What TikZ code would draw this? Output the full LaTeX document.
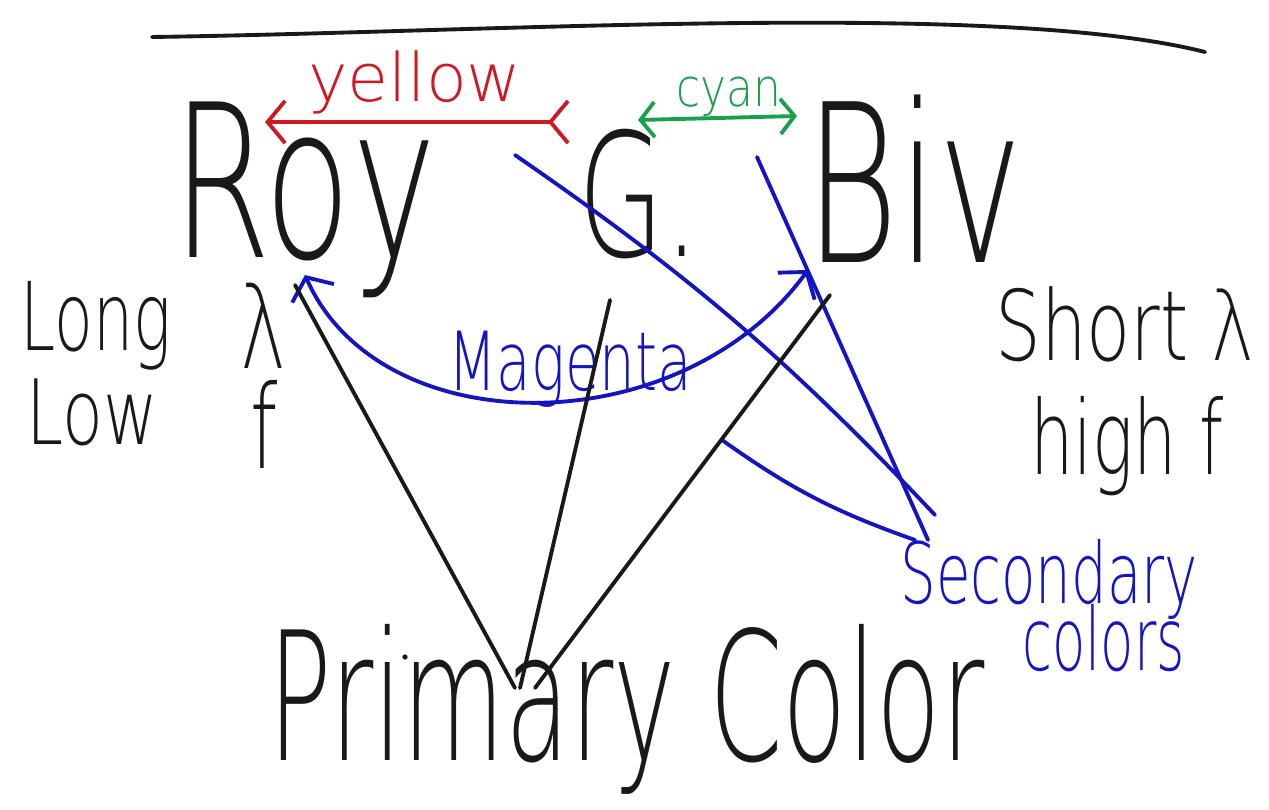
\documentclass[tikz,border=0pt]{standalone}
\usepackage{fontspec}
\setmainfont{DejaVu Sans}[UprightFont={* ExtraLight}]
\usetikzlibrary{arrows.meta}
\definecolor{penblack}{RGB}{25,25,25}
\definecolor{penred}{RGB}{205,25,35}
\definecolor{pengreen}{RGB}{25,160,75}
\definecolor{penblue}{RGB}{20,20,195}
\newcommand{\hsz}[1]{\fontsize{#1}{#1}\selectfont}
\begin{document}
\begin{tikzpicture}[x=0.02cm, y=-0.02cm,
  pen/.style={line width=2.2pt, line cap=round, line join=round},
  blk/.style={pen, draw=penblack},
  blu/.style={pen, draw=penblue},
  hand/.style={inner sep=0pt, anchor=base west, text=penblack}]
  \useasboundingbox (0,0) rectangle (1269,809);
  % top rule
  \coordinate (tl) at (152,37);
  \coordinate (tr) at (1205,52);
  \draw[blk] (tl) .. controls (500,32) and (1000,0) .. (tr);
  % Roy G. Biv
  \node[hand, yscale=1.5] (roy) at (172,257) {\hsz{81}Roy};
  \node[hand, yscale=1.55] (g) at (578,256) {\hsz{63}G.};
  \node[hand, yscale=1.55] (biv) at (805,262) {\hsz{81}Biv};
  % yellow and cyan
  \node[hand, text=penred] (yellow) at (308,101) {\hsz{38}yellow};
  \coordinate (yw) at (265,122);
  \coordinate (ye) at (570,122);
  \draw[pen, draw=penred, {Straight Barb[length=10pt,width=24pt]}-{Straight Barb[reversed,length=10pt,width=24pt]}] (yw) -- (ye);
  \node[hand, text=pengreen, yscale=1.2] (cyan) at (676,106) {\hsz{25}cyan};
  \coordinate (cw) at (638,120);
  \coordinate (ce) at (797,116);
  \draw[pen, draw=pengreen, <->, >={Straight Barb[length=8pt,width=20pt]}] (cw) -- (ce);
  % magenta
  \coordinate (ml) at (305,275);
  \coordinate (mr) at (808,270);
  \draw[blu, <->, >={Straight Barb[length=10pt,width=26pt]}] (ml) .. controls (380,445) and (680,445) .. (mr);
  \node[hand, text=penblue, yscale=1.45] (magenta) at (448,390) {\hsz{32}Magenta};
  % wavelength and frequency
  \node[hand, yscale=1.5] (long) at (20,350) {\hsz{36}Long};
  \node[hand, yscale=1.35] (low) at (26,444) {\hsz{38}Low};
  \node[hand, yscale=1.5] (lam) at (240,368) {\hsz{44}λ};
  \node[hand, yscale=1.5] (f) at (250,468) {\hsz{44}f};
  \node[hand, yscale=1.35] (short) at (995,360) {\hsz{41}Short λ};
  \node[hand, yscale=1.5] (high) at (1030,474) {\hsz{39}high f};
  % secondary colors
  \node[hand, text=penblue, yscale=1.5] (sec) at (900,603) {\hsz{32}Secondary};
  \node[hand, text=penblue, yscale=1.6] (col) at (1022,670) {\hsz{31}colors};
  \coordinate (s1) at (515,155);
  \coordinate (s1e) at (935,515);
  \coordinate (s2) at (757,157);
  \coordinate (s2e) at (928,540);
  \coordinate (s3) at (722,440);
  \coordinate (s3e) at (915,540);
  \draw[blu] (s1) to[bend left=6] (s1e);
  \draw[blu] (s2) -- (s2e);
  \draw[blu] (s3) to[bend right=8] (s3e);
  % primary color
  \node[hand, yscale=1.7] (prim) at (268,760) {\hsz{60}Primary Color};
  \coordinate (p1) at (295,285);
  \coordinate (p2) at (610,300);
  \coordinate (p3) at (830,295);
  \coordinate (q1) at (515,688);
  \coordinate (q2) at (520,688);
  \coordinate (q3) at (535,688);
  \draw[blk] (p1) -- (q1);
  \draw[blk] (p2) -- (q2);
  \draw[blk] (p3) -- (q3);
  \fill[penblack] (405,657) circle (1.5pt);
\end{tikzpicture}
\end{document}
